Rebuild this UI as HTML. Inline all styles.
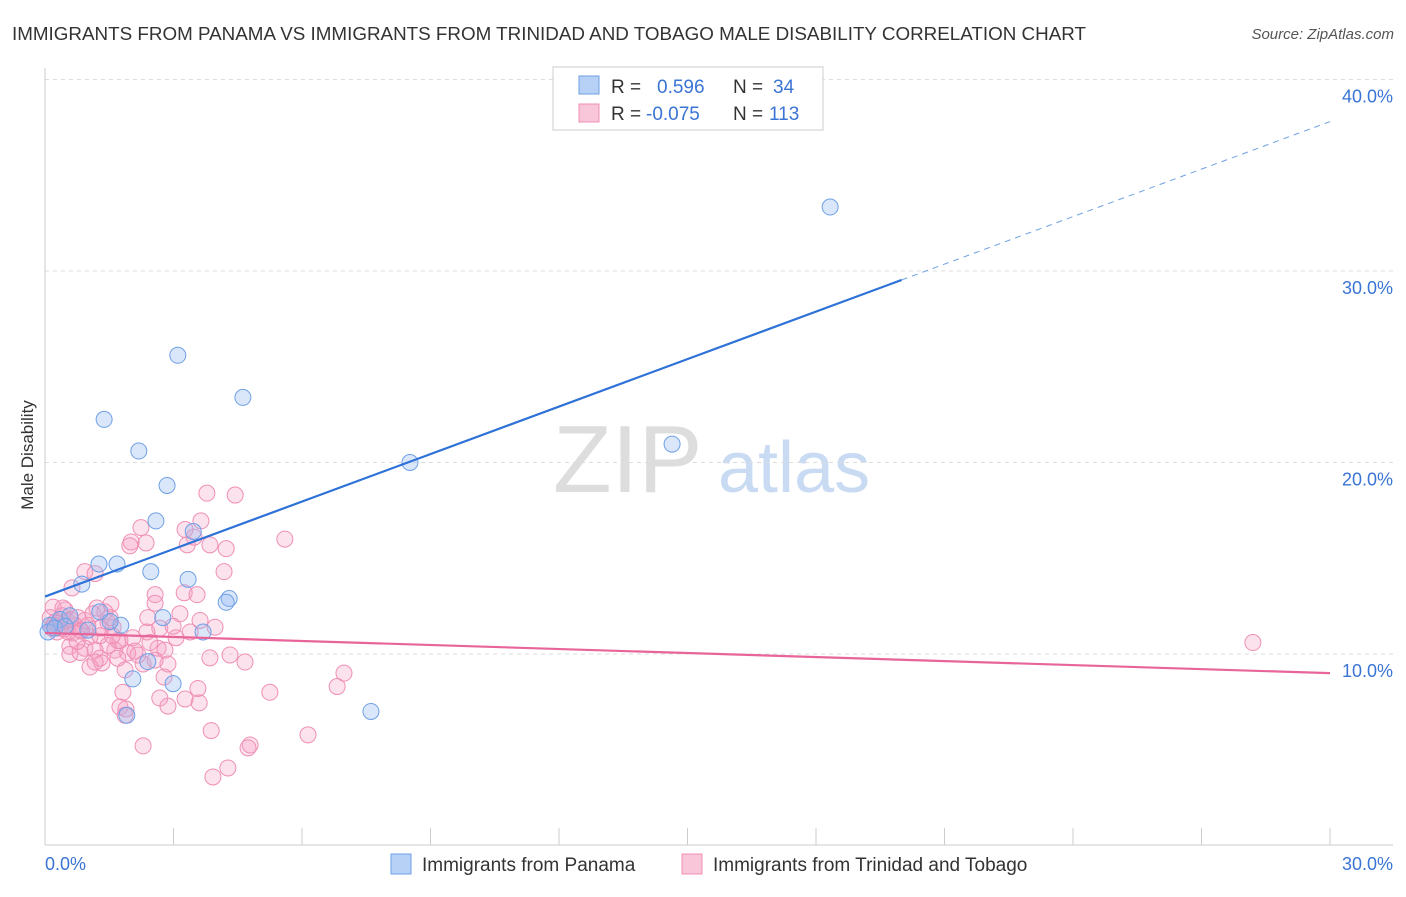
<!DOCTYPE html>
<html><head><meta charset="utf-8"><style>
body{margin:0;background:#fff;font-family:"Liberation Sans",sans-serif}
svg text{font-family:"Liberation Sans",sans-serif}
</style></head><body>
<svg id="chart" width="1406" height="892" viewBox="0 0 1406 892">
<text x="12" y="40" font-size="18.5" fill="#333" textLength="1074" lengthAdjust="spacingAndGlyphs">IMMIGRANTS FROM PANAMA VS IMMIGRANTS FROM TRINIDAD AND TOBAGO MALE DISABILITY CORRELATION CHART</text>
<text x="1394" y="39" font-size="15" fill="#555" font-style="italic" text-anchor="end">Source: ZipAtlas.com</text>
<text transform="translate(33,455) rotate(-90)" font-size="17" fill="#333" text-anchor="middle">Male Disability</text>
<g>
<text x="553" y="492" font-size="96" fill="#ddd" font-family="Liberation Serif,serif">ZIP</text>
<text x="718" y="492" font-size="72" fill="#c9dbf3">atlas</text>
</g>
<g id="grid"></g>
<g id="axes"></g>
<g id="pink"></g>
<g id="blue"></g>
<g id="lines"></g>
<g>
<rect x="553" y="67" width="270" height="63" fill="#fff" stroke="#ccc"/>
<rect x="579" y="76" width="20" height="18" fill="#b7d0f5" stroke="#6fa0e6"/>
<rect x="579" y="104" width="20" height="18" fill="#f9c5d8" stroke="#f08fb4"/>
<text x="611" y="93" font-size="19" fill="#333">R =</text><text x="657" y="93" font-size="19" fill="#3a74d4">0.596</text>
<text x="733" y="93" font-size="19" fill="#333">N =</text><text x="773" y="93" font-size="19" fill="#3a74d4">34</text>
<text x="611" y="120" font-size="19" fill="#333">R =</text><text x="646" y="120" font-size="19" fill="#3a74d4">-0.075</text>
<text x="733" y="120" font-size="19" fill="#333">N =</text><text x="769" y="120" font-size="19" fill="#3a74d4">113</text>
</g>
<g>
<rect x="391" y="854" width="20" height="20" fill="#b7d0f5" stroke="#6fa0e6"/>
<text x="422" y="871" font-size="19" fill="#333">Immigrants from Panama</text>
<rect x="682" y="854" width="20" height="20" fill="#f9c5d8" stroke="#f08fb4"/>
<text x="713" y="871" font-size="19" fill="#333">Immigrants from Trinidad and Tobago</text>
</g>
</svg>
<script>
const yTicks=[10,20,30,40];
const yTickLabels=["10.0%","20.0%","30.0%","40.0%"];
const xTickLabels=["0.0%","30.0%"];
const panamaX=[18.33,3.1,4.62,1.38,2.19,8.52,14.64,2.85,2.59,3.46,1.26,1.68,2.47,3.34,0.86,4.3,4.23,2.75,3.69,1.77,1.52,0.35,0.12,0.07,0.58,1.0,2.4,2.05,2.99,1.91,7.61,0.23,0.47,1.28];
const panamaY=[33.34,25.6,23.4,22.25,20.6,20.0,20.96,18.8,16.95,16.4,14.7,14.7,14.3,13.9,13.65,12.9,12.7,11.9,11.15,11.5,11.7,11.8,11.5,11.15,12.0,11.25,9.6,8.7,8.45,6.8,7.0,11.35,11.45,12.2];
const trinX=[28.2,5.6,3.78,4.44,3.64,3.27,3.48,3.32,3.85,4.23,2.01,1.98,2.36,2.24,4.18,0.93,1.17,0.63,2.57,3.25,3.55,2.57,1.54,1.21,0.19,0.47,3.15,1.52,2.68,3.39,0.82,0.65,1.05,1.28,1.7,2.05,3.06,0.58,0.93,1.17,1.63,1.93,2.1,2.64,2.8,4.32,0.58,0.82,1.28,1.33,1.7,1.05,1.17,1.87,2.29,2.87,4.67,2.78,6.98,6.82,1.82,3.57,5.25,2.68,3.27,3.6,1.75,1.89,2.87,1.87,3.88,6.14,2.29,4.79,4.74,4.27,3.92,0.12,0.23,0.35,0.4,0.51,0.28,0.7,0.77,0.16,0.93,1.0,1.47,1.59,2.4,2.38,2.99,3.62,3.97,1.75,2.45,0.42,1.57,2.17,3.85,2.57,1.47,1.12,1.3,0.75,0.54,0.3,0.45,0.6,0.2,0.85,1.4];
const trinY=[10.6,16.0,18.4,18.3,16.95,16.5,16.1,15.7,15.7,15.5,15.85,15.65,15.8,16.6,14.3,14.3,14.2,13.45,13.1,13.2,13.1,12.65,12.6,12.4,12.45,12.3,12.1,11.9,11.35,11.15,11.25,11.1,10.9,10.95,10.7,10.85,10.85,10.4,10.3,10.2,10.2,10.05,10.15,10.3,10.2,9.95,9.98,10.08,9.78,9.53,9.78,9.32,9.58,9.17,9.48,9.48,9.58,8.8,9.0,8.3,8.0,8.2,8.0,7.7,7.65,7.45,7.23,7.13,7.28,6.8,6.0,5.78,5.2,5.25,5.1,4.05,3.58,11.9,11.65,11.35,12.0,11.75,11.15,11.5,11.9,11.35,11.75,11.5,11.65,11.4,11.9,11.15,11.45,11.75,11.4,10.7,10.6,12.4,10.95,9.95,9.8,9.68,10.45,12.1,11.35,10.65,11.15,11.6,11.3,11.8,11.5,11.2,12.2];
const blueTrend=[13.0,37.8];   // y at x=0 and x=30
const pinkTrend=[11.1,9.0];
const NS="http://www.w3.org/2000/svg";
const X=v=>45+v*(1285/30);
const Y=v=>845.5-v*19.15;
function mk(tag,attrs,parent){const e=document.createElementNS(NS,tag);for(const k in attrs)e.setAttribute(k,attrs[k]);document.getElementById(parent).appendChild(e);return e;}
yTicks.forEach((t,i)=>{
 const g=mk('line',{x1:45,x2:1393,y1:Y(t),y2:Y(t),stroke:'#ddd','stroke-dasharray':'4,4'},'grid');
 
 
 const l=mk('text',{x:1393,y:Y(t)+23,'font-size':18,fill:'#3a74d4','text-anchor':'end'},'axes');
 l.textContent=yTickLabels[i];
 
 
});
mk('line',{x1:45,x2:45,y1:68,y2:845,stroke:'#ccc'},'axes');
mk('line',{x1:45,x2:1393,y1:845,y2:845,stroke:'#ccc'},'axes');
for(let i=1;i<=10;i++){const t=mk('line',{x1:X(i*3),x2:X(i*3),y1:828,y2:845,stroke:'#ccc'},'axes');
 
 }
const xl0=mk('text',{x:45,y:870,'font-size':18,fill:'#3a74d4'},'axes');xl0.textContent=xTickLabels[0];

const xl1=mk('text',{x:1393,y:870,'font-size':18,fill:'#3a74d4','text-anchor':'end'},'axes');xl1.textContent=xTickLabels[1];

trinX.forEach((x,i)=>{const c=mk('circle',{cx:X(x),cy:Y(trinY[i]),r:8,fill:'rgba(244,160,195,0.3)',stroke:'#f08fb4','stroke-width':1},'pink');
 
 });
panamaX.forEach((x,i)=>{const c=mk('circle',{cx:X(x),cy:Y(panamaY[i]),r:8,fill:'rgba(150,185,240,0.35)',stroke:'#6fa0e6','stroke-width':1},'blue');
 
 });
const by=x=>blueTrend[0]+(blueTrend[1]-blueTrend[0])*x/30;
const b1=mk('line',{x1:X(0),y1:Y(by(0)),x2:X(20),y2:Y(by(20)),stroke:'#2e72d8','stroke-width':2.2},'lines');

const b2=mk('line',{x1:X(20),y1:Y(by(20)),x2:X(30),y2:Y(by(30)),stroke:'#6fa0e6','stroke-width':1,'stroke-dasharray':'6,5'},'lines');

const p1=mk('line',{x1:X(0),y1:Y(pinkTrend[0]),x2:X(30),y2:Y(pinkTrend[1]),stroke:'#e8659a','stroke-width':2.2},'lines');

</script>
</body></html>
